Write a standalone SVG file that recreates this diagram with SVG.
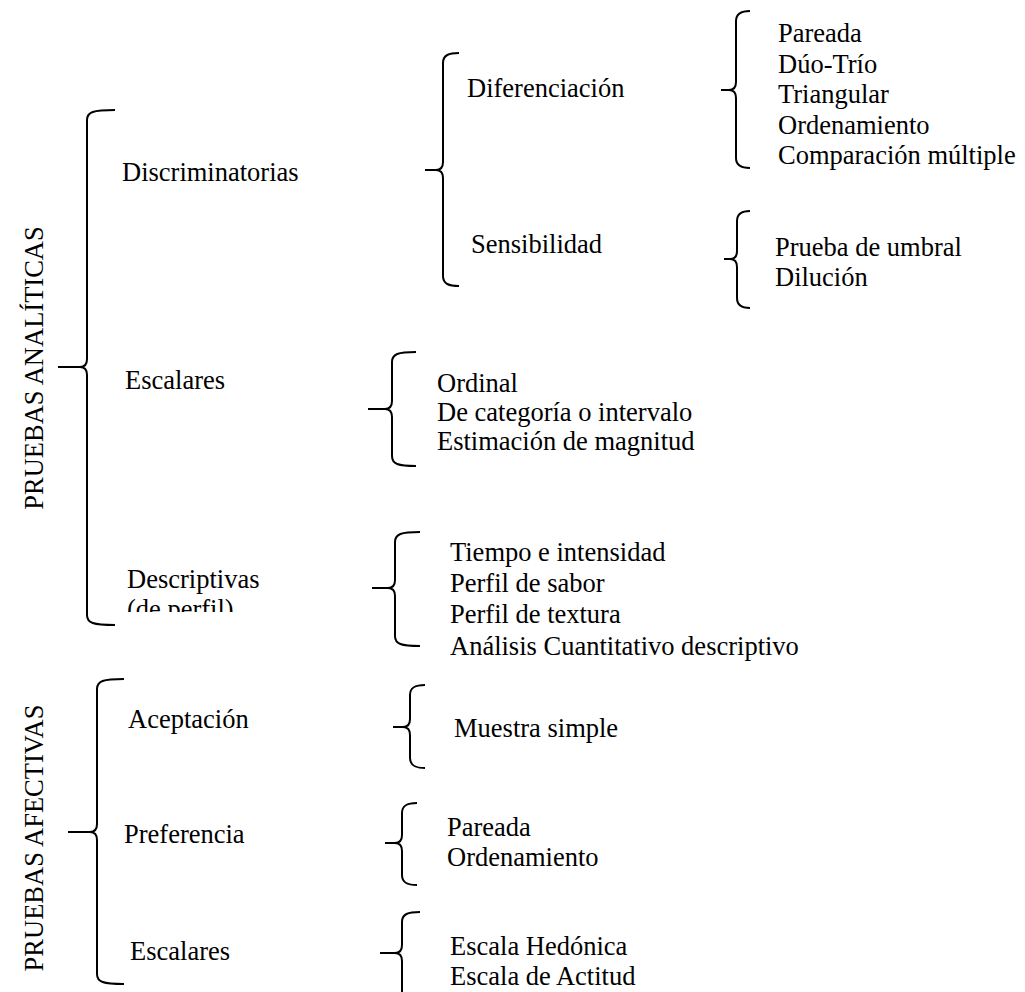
<svg xmlns="http://www.w3.org/2000/svg" width="1025" height="992" viewBox="0 0 1025 992">
<style>
.t{font-family:"Liberation Serif","Times New Roman",serif;font-size:26.5px;fill:#000}
.b{fill:none;stroke:#000;stroke-width:2;stroke-linecap:butt}
</style>
<defs>
<clipPath id="cutDesc"><rect x="100" y="560" width="250" height="52"/></clipPath>
</defs>
<rect width="1025" height="992" fill="#fff"/>
<g id="connectors">
<path class="b" d="M115,110 C93,110 87,112 87,120 L87,359 Q87,367 80,367 L58,367 M80,367 Q87,367 87,375 L87,615 C87,623 93,625 115,625"/>
<path class="b" d="M459,53 C449,53 443,55 443,63 L443,162 Q443,170 436,170 L425,170 M436,170 Q443,170 443,178 L443,276 C443,284 449,286 459,286"/>
<path class="b" d="M750,11 C742,11 736,13 736,21 L736,82 Q736,90 729,90 L721,90 M729,90 Q736,90 736,98 L736,158 C736,166 742,168 750,168"/>
<path class="b" d="M750,211 C743,211 737,213 737,221 L737,251 Q737,259 730,259 L724,259 M730,259 Q737,259 737,267 L737,298 C737,306 743,308 750,308"/>
<path class="b" d="M416,352 C398,352 392,354 392,362 L392,401 Q392,409 385,409 L368,409 M385,409 Q392,409 392,417 L392,456 C392,464 398,466 416,466"/>
<path class="b" d="M420,532 C401,532 395,534 395,542 L395,580 Q395,588 388,588 L372,588 M388,588 Q395,588 395,596 L395,636 C395,644 401,646 420,646"/>
<path class="b" d="M124,679 C103,679 97,681 97,689 L97,824 Q97,832 90,832 L68,832 M90,832 Q97,832 97,840 L97,974 C97,982 103,984 124,984"/>
<path class="b" d="M425,685 C416,685 410,687 410,695 L410,719 Q410,727 403,727 L393,727 M403,727 Q410,727 410,735 L410,758 C410,766 416,768 425,768"/>
<path class="b" d="M417,803 C408,803 402,805 402,813 L402,835 Q402,843 395,843 L385,843 M395,843 Q402,843 402,851 L402,875 C402,883 408,885 417,885"/>
<path class="b" d="M420,912 C408,912 402,914 402,922 L402,945 Q402,953 395,953 L380,953 M395,953 Q402,953 402,961 L402,995"/>
</g>
<g id="pruebas-analiticas"><text class="t" x="43" y="368" text-anchor="middle" transform="rotate(-90 43 368)">PRUEBAS ANALÍTICAS</text></g>
<g id="discriminatorias"><text class="t" x="122" y="181">Discriminatorias</text></g>
<g id="escalares-a"><text class="t" x="125" y="389">Escalares</text></g>
<g id="descriptivas"><text class="t" x="127" y="588">Descriptivas</text><text class="t" x="127" y="618" clip-path="url(#cutDesc)">(de perfil)</text></g>
<g id="diferenciacion"><text class="t" x="467" y="97">Diferenciación</text></g>
<g id="sensibilidad"><text class="t" x="471" y="253">Sensibilidad</text></g>
<g id="dif-list">
<text class="t" x="778" y="42">Pareada</text>
<text class="t" x="778" y="72.5">Dúo-Trío</text>
<text class="t" x="778" y="103">Triangular</text>
<text class="t" x="778" y="133.5">Ordenamiento</text>
<text class="t" x="778" y="164">Comparación múltiple</text>
</g>
<g id="sens-list">
<text class="t" x="775" y="256">Prueba de umbral</text>
<text class="t" x="775" y="285.5">Dilución</text>
</g>
<g id="esc-list">
<text class="t" x="437" y="392">Ordinal</text>
<text class="t" x="437" y="421">De categoría o intervalo</text>
<text class="t" x="437" y="450">Estimación de magnitud</text>
</g>
<g id="desc-list">
<text class="t" x="450" y="561">Tiempo e intensidad</text>
<text class="t" x="450" y="592">Perfil de sabor</text>
<text class="t" x="450" y="623">Perfil de textura</text>
<text class="t" x="450" y="655">Análisis Cuantitativo descriptivo</text>
</g>
<g id="pruebas-afectivas"><text class="t" x="43" y="838" text-anchor="middle" transform="rotate(-90 43 838)">PRUEBAS AFECTIVAS</text></g>
<g id="aceptacion"><text class="t" x="128" y="728">Aceptación</text></g>
<g id="preferencia"><text class="t" x="124" y="843">Preferencia</text></g>
<g id="escalares-b"><text class="t" x="130" y="960">Escalares</text></g>
<g id="acept-list"><text class="t" x="454" y="737">Muestra simple</text></g>
<g id="pref-list">
<text class="t" x="447" y="836">Pareada</text>
<text class="t" x="447" y="866">Ordenamiento</text>
</g>
<g id="escb-list">
<text class="t" x="450" y="955">Escala Hedónica</text>
<text class="t" x="450" y="985">Escala de Actitud</text>
</g>
</svg>
